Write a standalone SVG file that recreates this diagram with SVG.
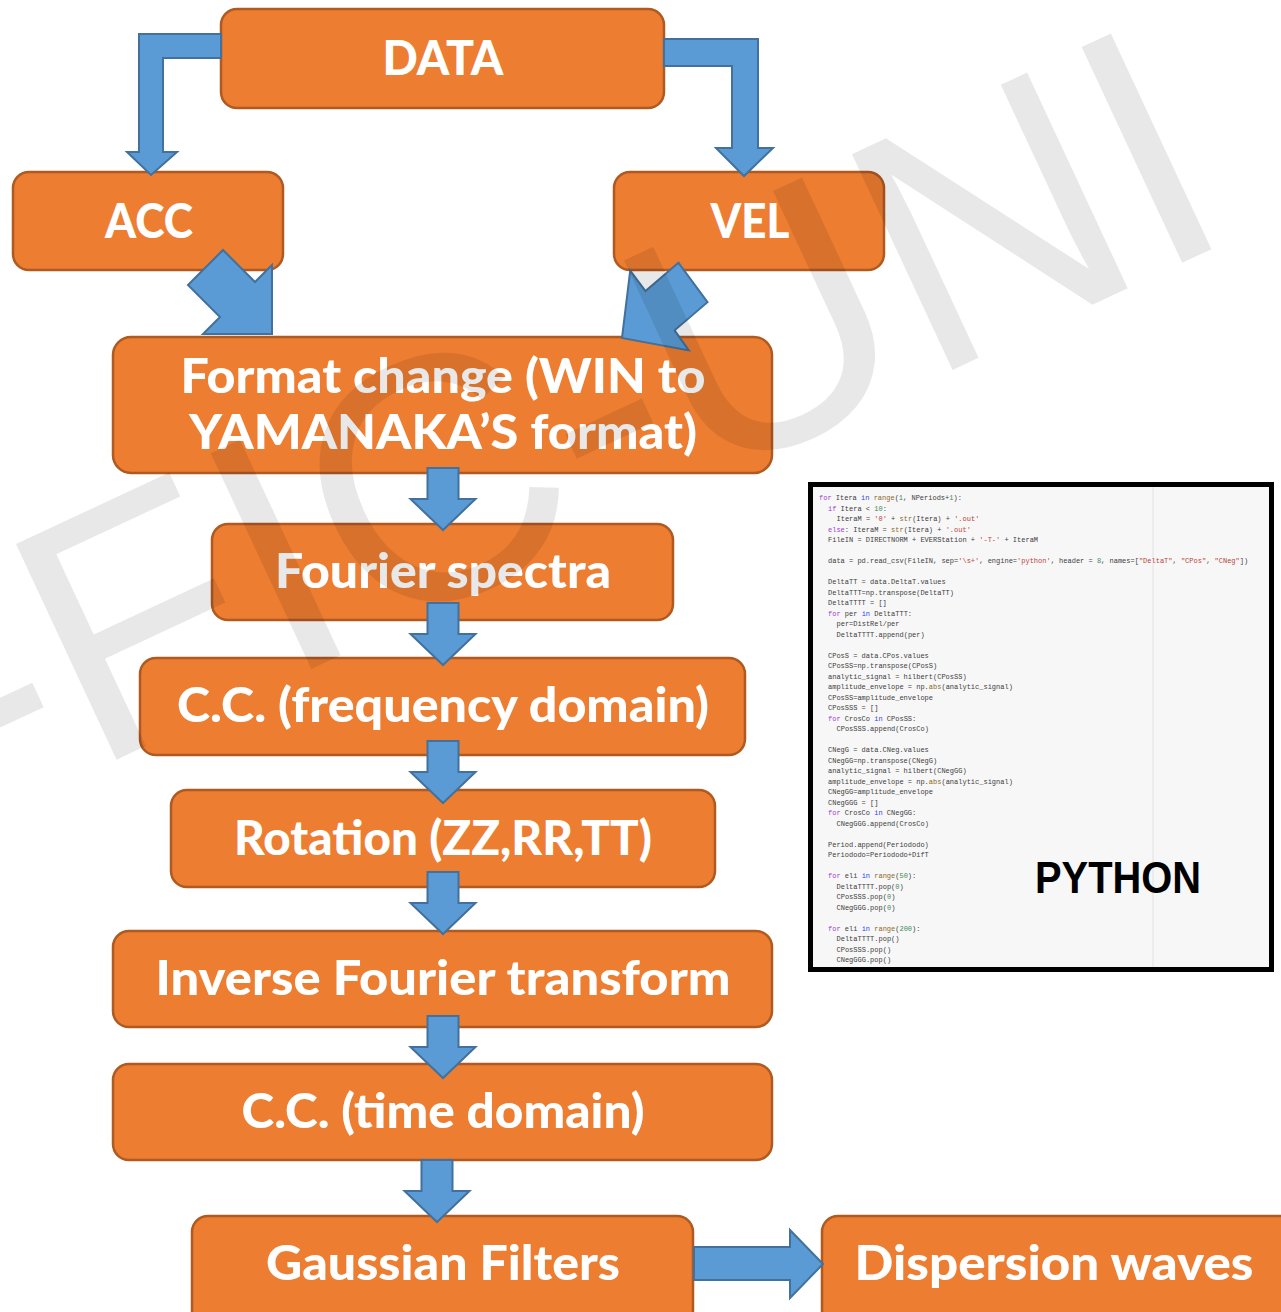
<svg xmlns="http://www.w3.org/2000/svg" width="1281" height="1312" viewBox="0 0 1281 1312">
  <defs>
    <style>
      .box { fill: #ED7D31; stroke: #AE5A21; stroke-width: 2.5; }
      .lbl { fill: #FFFFFF; font-family: Lato, "Open Sans", "Liberation Sans", sans-serif; font-weight: 900; font-size: 48px; text-anchor: middle; }
      .arw { fill: #5B9BD5; stroke: #41719C; stroke-width: 2; stroke-linejoin: miter; }
      .code { font-family: "Liberation Mono", "DejaVu Sans Mono", monospace; font-size: 7px; fill: #404040; white-space: pre; }
      .k { fill: #A23BD6; }
      .b { fill: #3344EE; }
      .s { fill: #B8433B; }
      .f { fill: #8A6A2A; }
      .n { fill: #3A8A5A; }
      .wm { font-family: "Liberation Sans", Arial, sans-serif; font-size: 346px; fill: #000000; fill-opacity: 0.09; }
    </style>
    <path id="down" class="arw" d="M -15.5,-62 H 15.5 V -31 H 32.5 L 0,0 L -32.5,-31 H -15.5 Z"/>
  </defs>

  <rect width="1281" height="1312" fill="#FFFFFF"/>

  <!-- flow boxes -->
  <g id="data"><rect class="box" x="221" y="9" width="443" height="99" rx="16"/><text class="lbl" x="443" y="75" textLength="121" lengthAdjust="spacingAndGlyphs">DATA</text></g>
  <g id="acc"><rect class="box" x="13" y="172" width="270" height="98" rx="16"/><text class="lbl" x="149" y="238" textLength="88" lengthAdjust="spacingAndGlyphs">ACC</text></g>
  <g id="vel"><rect class="box" x="614" y="172" width="270" height="98" rx="16"/><text class="lbl" x="750" y="238" textLength="79" lengthAdjust="spacingAndGlyphs">VEL</text></g>
  <g id="format"><rect class="box" x="113" y="337" width="659" height="136" rx="18"/>
    <text class="lbl" x="443" y="393" textLength="525" lengthAdjust="spacingAndGlyphs">Format change (WIN to</text>
    <text class="lbl" x="443" y="449" textLength="508" lengthAdjust="spacingAndGlyphs">YAMANAKA’S format)</text></g>
  <g id="fourier"><rect class="box" x="212" y="524" width="461" height="96" rx="16"/><text class="lbl" x="443" y="588" textLength="336" lengthAdjust="spacingAndGlyphs">Fourier spectra</text></g>
  <g id="cc-freq"><rect class="box" x="140" y="658" width="605" height="97" rx="16"/><text class="lbl" x="443" y="722" textLength="532" lengthAdjust="spacingAndGlyphs">C.C. (frequency domain)</text></g>
  <g id="rotation"><rect class="box" x="171" y="790" width="544" height="97" rx="16"/><text class="lbl" x="443" y="855" textLength="418" lengthAdjust="spacingAndGlyphs">Rotation (ZZ,RR,TT)</text></g>
  <g id="ifft"><rect class="box" x="113" y="931" width="659" height="96" rx="16"/><text class="lbl" x="443" y="995" textLength="575" lengthAdjust="spacingAndGlyphs">Inverse Fourier transform</text></g>
  <g id="cc-time"><rect class="box" x="113" y="1064" width="659" height="96" rx="16"/><text class="lbl" x="443" y="1128" textLength="403" lengthAdjust="spacingAndGlyphs">C.C. (time domain)</text></g>
  <g id="gauss"><rect class="box" x="192" y="1216" width="501" height="110" rx="16"/><text class="lbl" x="443" y="1280" textLength="354" lengthAdjust="spacingAndGlyphs">Gaussian Filters</text></g>
  <g id="dispersion"><rect class="box" x="822" y="1216" width="480" height="110" rx="16"/><text class="lbl" x="1054" y="1280" textLength="399" lengthAdjust="spacingAndGlyphs">Dispersion waves</text></g>

  <!-- block arrows -->
  <g id="connectors">
    <path class="arw" d="M 221,34 H 139 V 152 H 127 L 151,175 L 177,152 H 163 V 58 H 221 Z"/>
    <path class="arw" d="M 664,39 H 758 V 148 H 773 L 744,176 L 716,148 H 732 V 66 H 664 Z"/>
    <path class="arw" d="M 188,285 L 223,250 L 255,282 L 272,265 L 272,334 L 203,334 L 220,317 Z"/>
    <path class="arw" d="M 678.5,262.8 L 707.5,302.2 L 674.6,330.3 L 688.8,350.4 L 622,338 L 630.2,270.6 L 645.5,291.1 Z"/>
    <use href="#down" x="443" y="530"/>
    <use href="#down" x="443" y="665"/>
    <use href="#down" x="443" y="803"/>
    <use href="#down" x="443" y="934"/>
    <use href="#down" x="443" y="1078"/>
    <use href="#down" x="437" y="1222"/>
    <path class="arw" d="M 694,1247 H 790 V 1230 L 823,1264 L 790,1298 V 1280 H 694 Z"/>
  </g>

  <!-- code listing panel -->
  <g id="python-panel">
    <rect x="810.5" y="484.5" width="461" height="485" fill="#F7F7F7" stroke="#000000" stroke-width="5"/>
    <line x1="1153" y1="487" x2="1153" y2="967" stroke="#E6E6E6" stroke-width="1.2"/>
    <g class="code">
      <text x="819" y="500"><tspan class="k">for</tspan> Itera <tspan class="b">in</tspan> <tspan class="f">range</tspan>(<tspan class="n">1</tspan>, NPeriods+<tspan class="n">1</tspan>):</text>
      <text x="828" y="510.5"><tspan class="k">if</tspan> Itera &lt; <tspan class="n">10</tspan>:</text>
      <text x="836.5" y="521">IteraM = <tspan class="s">'0'</tspan> + <tspan class="f">str</tspan>(Itera) + <tspan class="s">'.out'</tspan></text>
      <text x="828" y="531.5"><tspan class="k">else</tspan>: IteraM = <tspan class="f">str</tspan>(Itera) + <tspan class="s">'.out'</tspan></text>
      <text x="828" y="542">FileIN = DIRECTNORM + EVERStation + <tspan class="s">'-T-'</tspan> + IteraM</text>
      <text x="828" y="563">data = pd.read_csv(FileIN, sep=<tspan class="s">'\s+'</tspan>, engine=<tspan class="s">'python'</tspan>, header = <tspan class="n">8</tspan>, names=[<tspan class="s">"DeltaT"</tspan>, <tspan class="s">"CPos"</tspan>, <tspan class="s">"CNeg"</tspan>])</text>
      <text x="828" y="584">DeltaTT = data.DeltaT.values</text>
      <text x="828" y="594.5">DeltaTTT=np.transpose(DeltaTT)</text>
      <text x="828" y="605">DeltaTTTT = []</text>
      <text x="828" y="615.5"><tspan class="k">for</tspan> per <tspan class="b">in</tspan> DeltaTTT:</text>
      <text x="836.5" y="626">per=DistRel/per</text>
      <text x="836.5" y="636.5">DeltaTTTT.append(per)</text>
      <text x="828" y="657.5">CPosS = data.CPos.values</text>
      <text x="828" y="668">CPosSS=np.transpose(CPosS)</text>
      <text x="828" y="678.5">analytic_signal = hilbert(CPosSS)</text>
      <text x="828" y="689">amplitude_envelope = np.<tspan class="f">abs</tspan>(analytic_signal)</text>
      <text x="828" y="699.5">CPosSS=amplitude_envelope</text>
      <text x="828" y="710">CPosSSS = []</text>
      <text x="828" y="720.5"><tspan class="k">for</tspan> CrosCo <tspan class="b">in</tspan> CPosSS:</text>
      <text x="836.5" y="731">CPosSSS.append(CrosCo)</text>
      <text x="828" y="752">CNegG = data.CNeg.values</text>
      <text x="828" y="762.5">CNegGG=np.transpose(CNegG)</text>
      <text x="828" y="773">analytic_signal = hilbert(CNegGG)</text>
      <text x="828" y="783.5">amplitude_envelope = np.<tspan class="f">abs</tspan>(analytic_signal)</text>
      <text x="828" y="794">CNegGG=amplitude_envelope</text>
      <text x="828" y="804.5">CNegGGG = []</text>
      <text x="828" y="815"><tspan class="k">for</tspan> CrosCo <tspan class="b">in</tspan> CNegGG:</text>
      <text x="836.5" y="825.5">CNegGGG.append(CrosCo)</text>
      <text x="828" y="846.5">Period.append(Periododo)</text>
      <text x="828" y="857">Periododo=Periododo+DifT</text>
      <text x="828" y="878"><tspan class="k">for</tspan> eli <tspan class="b">in</tspan> <tspan class="f">range</tspan>(<tspan class="n">50</tspan>):</text>
      <text x="836.5" y="888.5">DeltaTTTT.pop(<tspan class="n">0</tspan>)</text>
      <text x="836.5" y="899">CPosSSS.pop(<tspan class="n">0</tspan>)</text>
      <text x="836.5" y="909.5">CNegGGG.pop(<tspan class="n">0</tspan>)</text>
      <text x="828" y="930.5"><tspan class="k">for</tspan> eli <tspan class="b">in</tspan> <tspan class="f">range</tspan>(<tspan class="n">200</tspan>):</text>
      <text x="836.5" y="941">DeltaTTTT.pop()</text>
      <text x="836.5" y="951.5">CPosSSS.pop()</text>
      <text x="836.5" y="962">CNegGGG.pop()</text>
    </g>
    <text x="1118" y="893" text-anchor="middle" font-family="'Liberation Sans', Arial, sans-serif" font-weight="bold" font-size="44" fill="#000000" textLength="166" lengthAdjust="spacingAndGlyphs">PYTHON</text>
  </g>

  <!-- faint diagonal watermark over the flow -->
  <text class="wm" transform="translate(116,760) rotate(-25)" x="-143" y="0">-FIC-UNI</text>
</svg>
